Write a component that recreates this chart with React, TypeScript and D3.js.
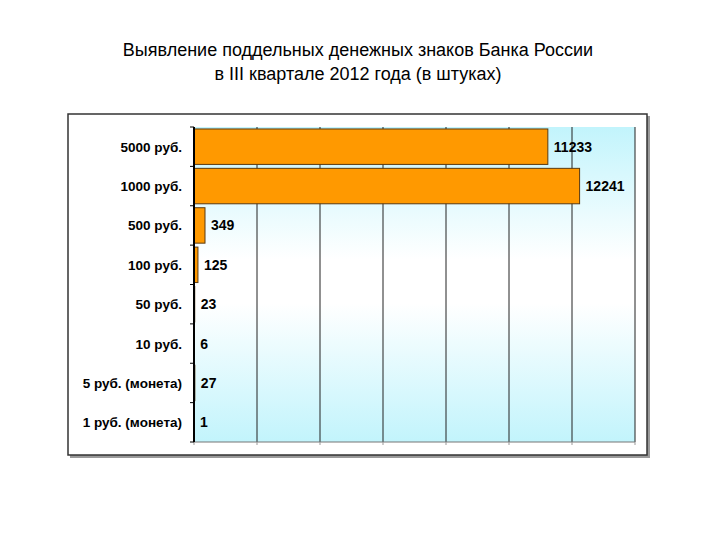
import { useEffect, useRef } from 'react';
import * as d3 from 'd3';

const categories = [
  '5000 руб.',
  '1000 руб.',
  '500 руб.',
  '100 руб.',
  '50 руб.',
  '10 руб.',
  '5 руб. (монета)',
  '1 руб. (монета)',
];
const counts = [11233, 12241, 349, 125, 23, 6, 27, 1];
const xTicks = [0, 2000, 4000, 6000, 8000, 10000, 12000, 14000];
const titleLines = [
  'Выявление поддельных денежных знаков Банка России',
  'в III квартале 2012 года (в штуках)',
];

export default function App() {
  const svgRef = useRef<SVGSVGElement>(null);

  useEffect(() => {
    if (!svgRef.current) return;
    const svg = d3.select(svgRef.current);
    svg.selectAll('*').remove();

    const font = 'Arial, "Liberation Sans", sans-serif';
    const plot = { left: 194, right: 635, top: 127, bottom: 442 };

    const x = d3.scaleLinear().domain([0, 14000]).range([plot.left, plot.right]);
    const y = d3
      .scaleBand<string>()
      .domain(categories)
      .range([plot.top, plot.bottom])
      .paddingInner(0.1)
      .paddingOuter(0.05);

    // Gradient for plot background
    const defs = svg.append('defs');
    const grad = defs
      .append('linearGradient')
      .attr('id', 'bg')
      .attr('x1', 0).attr('y1', 0).attr('x2', 0).attr('y2', 1);
    grad.append('stop').attr('offset', '0%').attr('stop-color', '#c2f4fc');
    grad.append('stop').attr('offset', '42%').attr('stop-color', '#ffffff');
    grad.append('stop').attr('offset', '56%').attr('stop-color', '#ffffff');
    grad.append('stop').attr('offset', '100%').attr('stop-color', '#c2f4fc');

    // Title
    titleLines.forEach((t, i) => {
      svg.append('text')
        .attr('x', 358)
        .attr('y', 56 + i * 24)
        .attr('text-anchor', 'middle')
        .style('font-family', font)
        .style('font-size', '18px')
        .attr('fill', '#000')
        .text(t);
    });

    // Outer frame with shadow
    svg.append('rect')
      .attr('x', 70).attr('y', 116).attr('width', 580).attr('height', 342)
      .attr('fill', '#9a9a9a');
    svg.append('rect')
      .attr('x', 68).attr('y', 114).attr('width', 579).attr('height', 341)
      .attr('fill', '#fff')
      .attr('stroke', '#333')
      .attr('stroke-width', 1.5);

    // Plot area
    svg.append('rect')
      .attr('x', plot.left).attr('y', plot.top)
      .attr('width', plot.right - plot.left).attr('height', plot.bottom - plot.top)
      .attr('fill', 'url(#bg)');

    // Gridlines
    svg.append('g')
      .selectAll('line')
      .data(xTicks.slice(1))
      .enter()
      .append('line')
      .attr('x1', d => x(d)).attr('x2', d => x(d))
      .attr('y1', plot.top).attr('y2', plot.bottom)
      .attr('stroke', '#222')
      .attr('stroke-width', 1);

    // Bottom axis line + ticks
    svg.append('line')
      .attr('x1', plot.left).attr('x2', plot.right)
      .attr('y1', plot.bottom).attr('y2', plot.bottom)
      .attr('stroke', '#777');
    svg.append('g')
      .selectAll('line')
      .data(xTicks)
      .enter()
      .append('line')
      .attr('x1', d => x(d)).attr('x2', d => x(d))
      .attr('y1', plot.bottom).attr('y2', plot.bottom + 3)
      .attr('stroke', '#999');

    // Bars
    svg.append('g')
      .selectAll('rect')
      .data(categories)
      .enter()
      .append('rect')
      .attr('x', x(0))
      .attr('y', d => y(d)!)
      .attr('width', (_, i) => x(counts[i]) - x(0))
      .attr('height', y.bandwidth())
      .attr('fill', '#ff9900')
      .attr('stroke', '#5a3a10')
      .attr('stroke-width', 1);

    // Value labels
    svg.append('g')
      .selectAll('text')
      .data(categories)
      .enter()
      .append('text')
      .attr('x', (_, i) => x(counts[i]) + 6)
      .attr('y', d => y(d)! + y.bandwidth() / 2 + 5)
      .style('font-family', font)
      .style('font-size', '14px')
      .style('font-weight', 'bold')
      .attr('fill', '#000')
      .text((_, i) => String(counts[i]));

    // Y axis line + ticks at band edges
    svg.append('line')
      .attr('x1', plot.left).attr('x2', plot.left)
      .attr('y1', plot.top).attr('y2', plot.bottom)
      .attr('stroke', '#000')
      .attr('stroke-width', 2);
    const step = (plot.bottom - plot.top) / categories.length;
    svg.append('g')
      .selectAll('line')
      .data(d3.range(categories.length + 1))
      .enter()
      .append('line')
      .attr('x1', plot.left - 4).attr('x2', plot.left)
      .attr('y1', d => plot.top + d * step).attr('y2', d => plot.top + d * step)
      .attr('stroke', '#000')
      .attr('stroke-width', 1);

    // Category labels
    svg.append('g')
      .selectAll('text')
      .data(categories)
      .enter()
      .append('text')
      .attr('x', 182)
      .attr('y', d => y(d)! + y.bandwidth() / 2 + 5)
      .attr('text-anchor', 'end')
      .style('font-family', font)
      .style('font-size', '13.5px')
      .style('font-weight', 'bold')
      .attr('fill', '#000')
      .text(d => d);
  }, []);

  return (
    <svg
      ref={svgRef}
      width={720}
      height={540}
      style={{ position: 'absolute', left: 0, top: 0, background: '#fff' }}
    />
  );
}
